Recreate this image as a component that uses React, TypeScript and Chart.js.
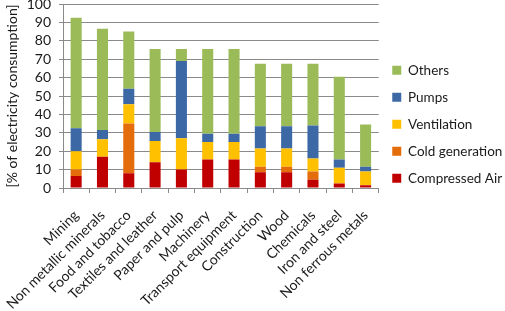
import React, { useEffect, useRef } from "react";
import { Chart, registerables } from "chart.js";

Chart.register(...registerables);

// Industrial sectors along the x axis
const categories = [
  "Mining",
  "Non metallic minerals",
  "Food and tobacco",
  "Textiles and leather",
  "Paper and pulp",
  "Machinery",
  "Transport equipment",
  "Construction",
  "Wood",
  "Chemicals",
  "Iron and steel",
  "Non ferrous metals",
];

// Share of electricity consumption per end use [%]
const compressedAir = [6.5, 17, 8, 14, 10, 15.5, 15.5, 8.5, 8.5, 4.5, 2.5, 1.5];
const coldGeneration = [3.5, 0, 27, 0, 0, 0, 0, 3, 3, 4.5, 0, 0];
const ventilation = [10, 9.5, 10.5, 11.5, 17, 9.5, 9.5, 10, 10, 7, 8.5, 7.5];
const pumps = [12.5, 5, 8.5, 5, 42, 4.5, 4.5, 12, 12, 18, 4.5, 2.5];
const others = [60, 55, 31, 45, 6.5, 46, 46, 34, 34, 33.5, 45, 23];

const yTicks = [0, 10, 20, 30, 40, 50, 60, 70, 80, 90, 100];

const FONT = "Lato, 'Noto Sans', sans-serif";
const GRID = "#8a8a8a";
const TEXT = "#1a1a1a";

export default function App() {
  const canvasRef = useRef<HTMLCanvasElement | null>(null);

  useEffect(() => {
    const canvas = canvasRef.current;
    if (!canvas) return;

    const series = [
      { label: "Compressed Air", data: compressedAir, color: "#C00000" },
      { label: "Cold generation", data: coldGeneration, color: "#E46C0A" },
      { label: "Ventilation", data: ventilation, color: "#FFC000" },
      { label: "Pumps", data: pumps, color: "#3C68A6" },
      { label: "Others", data: others, color: "#9BBB59" },
    ];

    const chart = new Chart(canvas, {
      type: "bar",
      data: {
        labels: categories,
        datasets: series.map((s) => ({
          label: s.label,
          data: s.data,
          backgroundColor: s.color,
          borderWidth: 0,
          categoryPercentage: 1,
          barPercentage: 0.42,
        })),
      },
      options: {
        responsive: false,
        animation: false,
        layout: { padding: { top: 0, left: 0, right: 0, bottom: 0 } },
        plugins: {
          tooltip: { enabled: false },
          legend: {
            position: "right",
            align: "start",
            reverse: true,
            title: {
              display: true,
              text: "",
              font: { size: 10, lineHeight: 1 },
              padding: { top: 40, bottom: 0 },
            },
            labels: {
              boxWidth: 9,
              boxHeight: 9,
              padding: 13.5,
              color: TEXT,
              font: { family: FONT, size: 13.5 },
            },
          },
        },
        scales: {
          x: {
            stacked: true,
            afterFit: (scale: any) => {
              scale.height = 123;
            },
            grid: {
              display: true,
              offset: true,
              drawOnChartArea: false,
              drawTicks: true,
              tickLength: 5,
              color: GRID,
            },
            border: { display: true, color: GRID },
            ticks: {
              color: TEXT,
              minRotation: 45,
              maxRotation: 45,
              padding: 14,
              autoSkip: false,
              font: { family: FONT, size: 14 },
            },
          },
          y: {
            stacked: true,
            min: 0,
            max: 100,
            afterFit: (scale: any) => {
              scale.width = 63;
              scale.paddingTop = 4;
              scale.paddingBottom = 4;
            },
            afterBuildTicks: (scale: any) => {
              scale.ticks = yTicks.map((v) => ({ value: v }));
            },
            grid: {
              color: GRID,
              drawTicks: true,
              tickLength: 4,
            },
            border: { display: true, color: GRID },
            ticks: {
              color: TEXT,
              padding: 8,
              autoSkip: false,
              font: { family: FONT, size: 14 },
            },
            title: {
              display: true,
              text: "[% of electricity consumption]",
              color: TEXT,
              padding: { top: 4, bottom: 0 },
              font: { family: FONT, size: 14 },
            },
          },
        },
      },
    });

    return () => chart.destroy();
  }, []);

  return (
    <div style={{ position: "fixed", left: 0, top: 0, width: 505, height: 311, background: "#fff" }}>
      <canvas ref={canvasRef} width={505} height={311} />
    </div>
  );
}
